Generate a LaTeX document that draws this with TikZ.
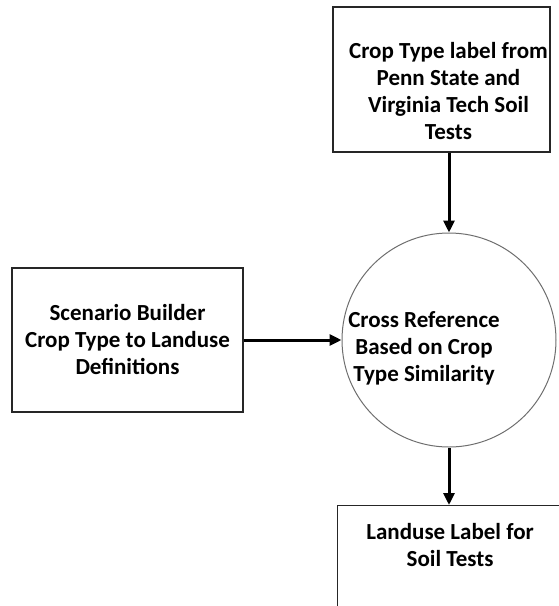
\documentclass[tikz,border=0pt]{standalone}
\usepackage{fontspec}
\setmainfont{Carlito}
\usetikzlibrary{arrows.meta, positioning, shapes.geometric}
\definecolor{cline}{HTML}{262626}
\definecolor{cring}{HTML}{6E6E6E}
\tikzset{
  every picture/.style={font=\bfseries\fontsize{23}{27}\selectfont},
  txt/.style={align=center, inner sep=0pt},
  box/.style={draw=cline, line width=1.1pt, rectangle, txt},
  ring/.style={draw=cring, line width=1pt, circle, minimum size=214pt, inner sep=0pt},
  arrow/.style={-{Triangle[length=12pt, width=11pt]}, draw=black, line width=3pt},
}
\begin{document}
\begin{tikzpicture}[x=1pt, y=-1pt]
  \useasboundingbox (0,0) rectangle (559,606);
  \clip (0,0) rectangle (559,606);
  % boxes and the cross reference ring
  \node[box, minimum width=217pt, minimum height=145pt,
        label={[txt, xshift=7pt, yshift=-12pt]center:{Crop Type label from\\Penn State and\\Virginia Tech Soil\\Tests}}]
        (soil) at (441.5,79.5) {};
  \node[box, minimum width=231pt, minimum height=144pt] (scen) at (127.5,340)
        {Scenario Builder\\Crop Type to Landuse\\Definitions};
  \node[ring, label={[txt, xshift=-25pt, yshift=-8pt]center:{Cross Reference\\Based on Crop\\Type Similarity}}]
        (cross) at (449,340) {};
  \node[box, anchor=north west, minimum width=233pt, minimum height=130pt,
        label={[txt, anchor=center, xshift=-4pt, yshift=-40pt]north:{Landuse Label for\\Soil Tests}}]
        (land) at (337,505) {};
  % connectors
  \draw[arrow] (cross.north |- soil.south) -- (cross.north);
  \draw[arrow] (scen.east) -- (cross.west);
  \draw[arrow] (cross.south) -- (cross.south |- land.north);
\end{tikzpicture}
\end{document}
